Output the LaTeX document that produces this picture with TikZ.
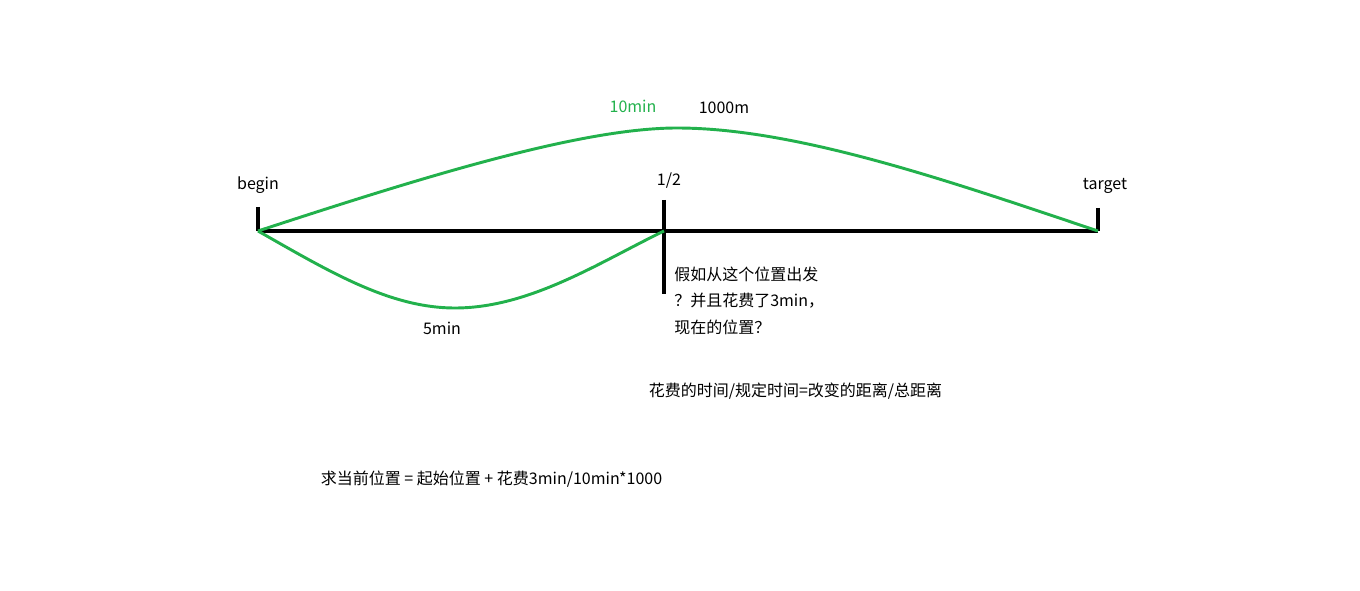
\documentclass[tikz,border=0pt]{standalone}
\usepackage{fontspec}
\setmainfont{Noto Sans CJK SC}
\definecolor{pgreen}{RGB}{34,177,76}
\begin{document}
\begin{tikzpicture}[x=0.75pt,y=-0.75pt,
  axis/.style={line width=3.2pt},
  arc/.style={pgreen,line width=2.2pt},
  lbl/.style={font=\fontsize{12pt}{14pt}\selectfont,inner sep=0pt}]
\useasboundingbox (0,0) rectangle (1360,591);
\coordinate (B) at (258,231);
\coordinate (M) at (664,231);
\coordinate (T) at (1098,231);
\coordinate (Btop) at (258,207);
\coordinate (Ttop) at (1098,208);
\coordinate (Mtop) at (664,200);
\coordinate (Mbot) at (664,294);
\coordinate (P) at (677,128);
\coordinate (Q) at (455,308);
% axis
\draw[axis] (B) -- (T);
\draw[axis] (Btop) -- (B);
\draw[axis] (Ttop) -- (T);
\draw[line width=2.4pt] (Mtop) -- (Mbot);
% green curves
\draw[arc] (B) .. controls (420,178) and (580,128) .. (P) .. controls (800,128) and (960,185) .. (T);
\draw[arc] (B) .. controls (330,272) and (390,308) .. (Q) .. controls (530,308) and (600,262) .. (M);
% labels
\node[lbl] (lbegin) at (258,185) {begin};
\node[lbl] (lhalf) at (669,181) {1/2};
\node[lbl] (ltarget) at (1105,186) {target};
\node[lbl,text=pgreen] (l10) at (633,106) {10min};
\node[lbl] (l1000) at (724,108) {1000m};
\node[lbl] (l5) at (442,328) {5min};
\node[lbl,anchor=west] (q1) at (674,274) {假如从这个位置出发};
\node[lbl,anchor=west] (q2) at (674,301) {？并且花费了3min，};
\node[lbl,anchor=west] (q3) at (674,327) {现在的位置？};
\node[lbl] (f1) at (795.5,391) {花费的时间/规定时间=改变的距离/总距离};
\node[lbl] (f2) at (491.5,479) {求当前位置 = 起始位置 + 花费3min/10min*1000};
\end{tikzpicture}
\end{document}
